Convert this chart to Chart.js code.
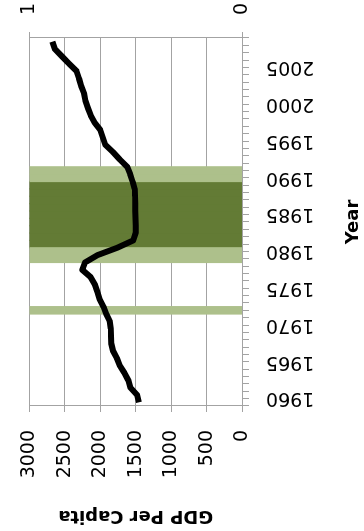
<!DOCTYPE html>
<html>
<head>
<meta charset="utf-8">
<script src="https://cdn.jsdelivr.net/npm/chart.js@4/dist/chart.umd.min.js"></script>
<style>
  html, body { margin: 0; padding: 0; background: #fff; overflow: hidden; }
  /* the chart is laid out landscape and turned a quarter-turn counter-clockwise */
  #wrap {
    position: absolute; left: 0; top: 0;
    width: 531px; height: 364px;
    transform-origin: 0 0;
    transform: translate(0, 531px) rotate(-90deg);
  }
  canvas { display: block; }
</style>
</head>
<body>
<div id="wrap"><canvas id="chart" width="531" height="364" style="width:531px;height:364px"></canvas></div>
<script>
// Years on the category axis
const years = [
  1960, 1961, 1962, 1963, 1964, 1965, 1966, 1967, 1968, 1969,
  1970, 1971, 1972, 1973, 1974, 1975, 1976, 1977, 1978, 1979,
  1980, 1981, 1982, 1983, 1984, 1985, 1986, 1987, 1988, 1989,
  1990, 1991, 1992, 1993, 1994, 1995, 1996, 1997, 1998, 1999,
  2000, 2001, 2002, 2003, 2004, 2005, 2006, 2007, 2008, 2009
];

// GDP per capita for each year
const gdpPerCapita = [
  1455, 1480, 1575, 1605, 1660, 1725, 1765, 1820, 1845, 1850,
  1852, 1865, 1915, 1955, 2010, 2040, 2075, 2135, 2255, 2215,
  2040, 1760, 1535, 1500, 1500, 1502, 1505, 1508, 1510, 1515,
  1545, 1578, 1620, 1725, 1820, 1930, 1965, 2000, 2080, 2135,
  2175, 2210, 2230, 2270, 2300, 2335, 2440, 2540, 2640, 2675
];

// Shaded periods (plotted as full-height bars on the 0–1 axis)
const lightBandYears = [1972, 1979, 1980, 1990, 1991];
const darkBandYears  = [1981, 1982, 1983, 1984, 1985, 1986, 1987, 1988, 1989];

// Tick labels
const yearTickLabels = [1960, 1965, 1970, 1975, 1980, 1985, 1990, 1995, 2000, 2005];
const gdpTicks = [0, 500, 1000, 1500, 2000, 2500, 3000];
const bandTicks = [0, 1];

const lightBand = lightBandYears.map(y => ({ x: y, y: 1 }));
const darkBand  = darkBandYears.map(y => ({ x: y, y: 1 }));

const GRID = '#a3a3a3';
Chart.defaults.font.family = "'DejaVu Sans', sans-serif";
Chart.defaults.font.size = 19;
Chart.defaults.color = '#000';

new Chart(document.getElementById('chart'), {
  type: 'bar',
  data: {
    labels: years,
    datasets: [
      {
        type: 'line',
        label: 'GDP Per Capita',
        data: gdpPerCapita,
        xAxisID: 'x',
        yAxisID: 'y',
        borderColor: '#000',
        borderWidth: 6,
        pointRadius: 0,
        tension: 0,
        borderJoinStyle: 'round',
        borderCapStyle: 'butt',
        order: 0
      },
      {
        label: 'Period A',
        data: lightBand,
        xAxisID: 'xb',
        yAxisID: 'y1',
        backgroundColor: '#adc08b',
        borderWidth: 0,
        inflateAmount: 0.6,
        barPercentage: 1,
        categoryPercentage: 1,
        grouped: false,
        order: 1
      },
      {
        label: 'Period B',
        data: darkBand,
        xAxisID: 'xb',
        yAxisID: 'y1',
        backgroundColor: '#637b35',
        borderWidth: 0,
        inflateAmount: 0.6,
        barPercentage: 1,
        categoryPercentage: 1,
        grouped: false,
        order: 1
      }
    ]
  },
  options: {
    responsive: false,
    animation: false,
    layout: { padding: { top: 21, left: 0, right: 0, bottom: 0 } },
    plugins: { legend: { display: false }, tooltip: { enabled: false } },
    scales: {
      x: {
        type: 'category',
        offset: true,
        grid: { offset: true, drawOnChartArea: false, tickLength: 7, color: GRID, tickColor: GRID },
        border: { color: GRID },
        ticks: {
          autoSkip: false,
          minRotation: 90,
          maxRotation: 90,
          padding: 17,
          labelOffset: 4,
          callback: (v, i) => yearTickLabels.includes(years[i]) ? String(years[i]) : ''
        },
        title: { display: true, text: 'Year', font: { weight: 'bold', size: 18 }, padding: { top: 0, bottom: 0 } },
        afterFit: s => { s.height = 122; }
      },
      // year axis for the shaded bands, sharing the plot width
      xb: {
        type: 'linear',
        display: false,
        offset: false,
        grid: { offset: false },
        min: 1959.0,
        max: 2009.0
      },
      y: {
        position: 'left',
        min: 0,
        max: 3000,
        grid: { color: GRID, tickColor: GRID, tickLength: 6 },
        border: { color: GRID },
        ticks: { padding: 18, callback: v => String(v) },
        afterBuildTicks: s => { s.ticks = gdpTicks.map(v => ({ value: v })); },
        title: { display: true, text: 'GDP Per Capita', font: { weight: 'bold', size: 18 }, padding: { top: 5, bottom: 0 } },
        afterFit: s => { s.width = 125; }
      },
      y1: {
        position: 'right',
        min: 0,
        max: 1,
        grid: { drawOnChartArea: false, color: GRID, tickColor: GRID, tickLength: 6 },
        border: { color: GRID },
        ticks: { padding: 17, callback: v => String(v) },
        afterBuildTicks: s => { s.ticks = bandTicks.map(v => ({ value: v })); },
        afterFit: s => { s.width = 38; }
      }
    }
  }
});
</script>
</body>
</html>
